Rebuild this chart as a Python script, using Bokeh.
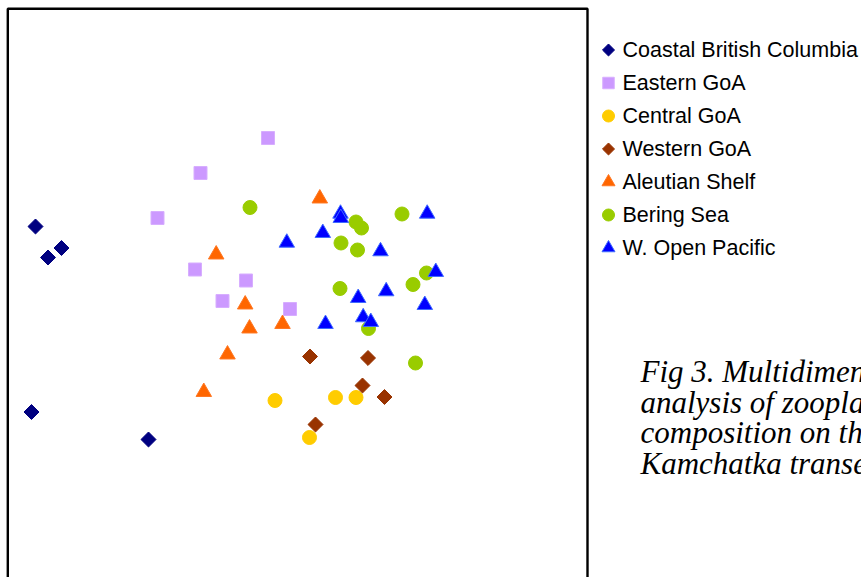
import numpy as np
from bokeh.plotting import figure
from bokeh.models import Range1d
from bokeh.core.properties import value
from bokeh.embed import file_html
from bokeh.resources import INLINE

# MDS ordination scores (in plot units; y grows downward)
cbc_x = [35, 61, 47.5, 31, 148]
cbc_y = [226, 247.5, 257, 411.5, 439]

egoa_x = [267.5, 200, 157, 194.5, 245.5, 222, 289.5]
egoa_y = [137.5, 172.5, 217.5, 269, 280, 300.5, 308.5]

cgoa_x = [274.5, 335, 355.5, 309]
cgoa_y = [400, 397, 397, 437]

wgoa_x = [309.5, 367.5, 362, 384, 315]
wgoa_y = [356, 357.5, 385, 396.5, 424]

ale_x = [319.3, 215.7, 244.7, 249, 282, 227, 203.3]
ale_y = [198, 254, 304, 328, 323.5, 354, 391.5]

ber_x = [249.5, 355.5, 361, 401.5, 340.5, 357, 426, 412.5, 339.5, 368, 415]
ber_y = [207, 221.5, 227.5, 213.5, 242.5, 249.5, 272.5, 284, 288, 328, 362.5]

wop_x = [340, 340.3, 426.7, 322.3, 286.3, 380, 435.3, 385.7, 357.7, 424.3, 362.7, 370.3, 325]
wop_y = [213.2, 217.5, 213.2, 232.5, 242.2, 250.8, 271.5, 290.8, 297.5, 304.5, 316.8, 321.5, 323.5]

series_names = ["Coastal British Columbia", "Eastern GoA", "Central GoA", "Western GoA",
                "Aleutian Shelf", "Bering Sea", "W. Open Pacific"]
caption_lines = ["Fig 3. Multidimensional scaling", "analysis of zooplankton",
                 "composition on the", "Kamchatka transect"]

# styles
styles = [
    dict(marker="square", size=10.6, angle=np.pi / 4, fill="#000080", line="#000080", lsize=8.5),
    dict(marker="square", size=13, angle=0, fill="#CC99FF", line="#D7AEFF", lsize=11.5),
    dict(marker="circle", size=14, angle=0, fill="#FFCC00", line="#FFCC00", lsize=12),
    dict(marker="square", size=10.6, angle=np.pi / 4, fill="#993300", line="#993300", lsize=8.5),
    dict(marker="triangle", size=15.5, angle=0, fill="#FF6600", line="#FF7722", lsize=13),
    dict(marker="circle", size=14, angle=0, fill="#99CC00", line="#99CC00", lsize=12),
    dict(marker="triangle", size=15.5, angle=0, fill="#0000FF", line="#3F6BFF", lsize=13),
]
data = [(cbc_x, cbc_y), (egoa_x, egoa_y), (cgoa_x, cgoa_y), (wgoa_x, wgoa_y),
        (ale_x, ale_y), (ber_x, ber_y), (wop_x, wop_y)]

p = figure(width=861, height=577, output_backend="svg", toolbar_location=None,
           x_axis_location=None, y_axis_location=None,
           x_range=Range1d(0, 861), y_range=Range1d(577, 0))
p.min_border = 0
p.outline_line_color = None
p.xgrid.visible = False
p.ygrid.visible = False
p.background_fill_color = "white"
p.border_fill_color = "white"

# plot box (bottom edge lies below the visible page)
p.quad(left=[7.3], right=[587], top=[8.2], bottom=[640], fill_color=None,
       line_color="black", line_width=2.4)

for (xs, ys), st in zip(data, styles):
    p.scatter(x=xs, y=ys, marker=st["marker"], size=st["size"], angle=st["angle"],
              fill_color=st["fill"], line_color=st["line"], line_width=1)

# legend
leg_x = 608
leg_y0 = 49.5
leg_dy = 33
for i, (name, st) in enumerate(zip(series_names, styles)):
    yy = leg_y0 + i * leg_dy
    p.scatter(x=[leg_x], y=[yy], marker=st["marker"], size=st["lsize"], angle=st["angle"],
              fill_color=st["fill"], line_color=st["line"], line_width=1)
    p.text(x=[622], y=[yy], text=[name], text_font=value("Liberation Sans"),
           text_font_size=value("21.5px"), text_baseline="middle", text_align="left",
           text_color="black")

# caption
cap_y0 = 371
cap_dy = 30.5
for i, line in enumerate(caption_lines):
    p.text(x=[640], y=[cap_y0 + i * cap_dy], text=[line], text_font=value("Liberation Serif"),
           text_font_style="italic", text_font_size=value("31px"),
           text_baseline="alphabetic", text_align="left", text_color="black")

open("out.html", "w").write(file_html(p, INLINE))
